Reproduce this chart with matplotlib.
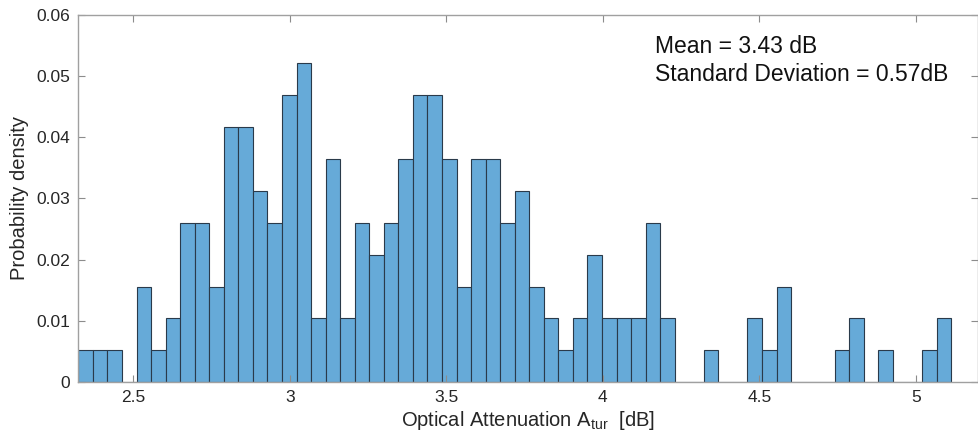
import numpy as np
import matplotlib
matplotlib.use("Agg")
import matplotlib.pyplot as plt

plt.rcParams['font.family'] = ['Liberation Sans', 'DejaVu Sans']
plt.rcParams['mathtext.fontset'] = 'custom'
plt.rcParams['mathtext.rm'] = 'Liberation Sans'

# Histogram data (probability density per bin)
bin_start = 2.325
bin_width = 0.04645
density = [0.0052, 0.0052, 0.0052, 0.0, 0.0156, 0.0052, 0.0104, 0.0260, 0.0260, 0.0156,
           0.0417, 0.0417, 0.0313, 0.0260, 0.0469, 0.0521, 0.0104, 0.0365, 0.0104, 0.0260,
           0.0208, 0.0260, 0.0365, 0.0469, 0.0469, 0.0365, 0.0156, 0.0365, 0.0365, 0.0260,
           0.0313, 0.0156, 0.0104, 0.0052, 0.0104, 0.0208, 0.0104, 0.0104, 0.0104, 0.0260,
           0.0104, 0.0, 0.0, 0.0052, 0.0, 0.0, 0.0104, 0.0052, 0.0156, 0.0,
           0.0, 0.0, 0.0052, 0.0104, 0.0, 0.0052, 0.0, 0.0, 0.0052, 0.0104]
x_ticks = [2.5, 3, 3.5, 4, 4.5, 5]
x_tick_labels = ['2.5', '3', '3.5', '4', '4.5', '5']
y_ticks = [0, 0.01, 0.02, 0.03, 0.04, 0.05, 0.06]
y_tick_labels = ['0', '0.01', '0.02', '0.03', '0.04', '0.05', '0.06']
stats_lines = ['Mean = 3.43 dB', 'Standard Deviation = 0.57dB']

lefts = bin_start + bin_width * np.arange(len(density))

fig = plt.figure(figsize=(9.79, 4.45), dpi=100)
ax = fig.add_axes([0.080, 0.1416, 0.919, 0.8247])

ax.bar(lefts, density, width=bin_width, align='edge',
       color='#66AAD8', edgecolor='#2a3a4a', linewidth=0.8)

ax.set_xlim(2.325, 5.198)
ax.set_ylim(0, 0.06)
ax.set_xticks(x_ticks)
ax.set_xticklabels(x_tick_labels)
ax.set_yticks(y_ticks)
ax.set_yticklabels(y_tick_labels)

for s in ax.spines.values():
    s.set_color('#a0a0a0')
    s.set_linewidth(1.0)
ax.tick_params(direction='in', top=True, right=True, length=5, width=0.8,
               color='#8c8c8c', labelsize=12.5, labelcolor='#262626', pad=6)

ax.set_xlabel(r'Optical Attenuation A$_{\mathrm{tur}}$  [dB]', fontsize=14.5, color='#262626', labelpad=3)
ax.set_ylabel('Probability density', fontsize=14.5, color='#262626', labelpad=5)

ax.text(4.166, 0.0548, stats_lines[0], fontsize=16.5, color='#111111', va='center', ha='left')
ax.text(4.166, 0.0502, stats_lines[1], fontsize=16.5, color='#111111', va='center', ha='left')

fig.savefig('out.png', dpi=100)
